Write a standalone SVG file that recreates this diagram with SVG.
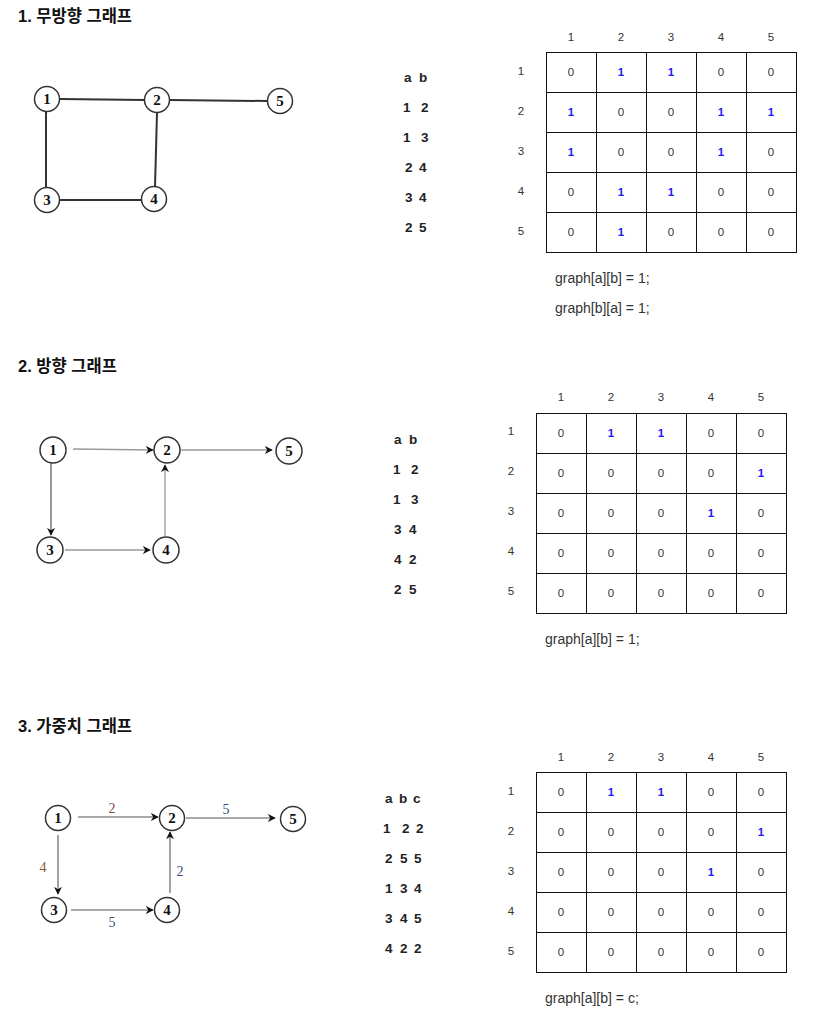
<svg xmlns="http://www.w3.org/2000/svg" width="818" height="1014" viewBox="0 0 818 1014">
<defs>
<style>
.title{font-family:"Liberation Sans","Noto Sans CJK KR",sans-serif;font-size:16.5px;font-weight:bold;fill:#111}
.node circle{fill:#fff;stroke:#333;stroke-width:1.5}
.node text{font-family:"Liberation Serif",serif;font-size:15px;font-weight:bold;fill:#111;text-anchor:middle;dominant-baseline:central}
.e1{stroke:#333;stroke-width:2;fill:none}
.e2{stroke:#999;stroke-width:1.3;fill:none}
.e2d{stroke:#555;stroke-width:1.2;fill:none}
.e3{stroke:#555;stroke-width:1.1;fill:none}
.list{font-family:"Liberation Sans",sans-serif;font-size:13.5px;font-weight:bold;fill:#222}
.hdr{font-family:"Liberation Sans",sans-serif;font-size:11.5px;fill:#333;text-anchor:middle;dominant-baseline:central}
.cell{font-family:"Liberation Sans",sans-serif;font-size:11.5px;fill:#333;text-anchor:middle;dominant-baseline:central}
.one{fill:#1a1aff;font-weight:bold}
.grid{fill:none;stroke:#111;stroke-width:1}
.code{font-family:"Liberation Sans",sans-serif;font-size:14px;fill:#333}
.w{font-family:"Liberation Serif",serif;font-size:14px}
</style>
<marker id="arr" viewBox="0 0 10 10" refX="9" refY="5" markerWidth="8" markerHeight="8" markerUnits="userSpaceOnUse" orient="auto">
<path d="M0,0 L10,5 L0,10 L3,5 Z" fill="#111"/>
</marker>
</defs>
<rect width="818" height="1014" fill="#fff"/>

<!-- Section 1 -->
<text class="title" x="18" y="22">1. 무방향 그래프</text>
<g id="edges1">
<line class="e1" x1="60" y1="99" x2="145" y2="100"/>
<line class="e1" x1="170" y1="100" x2="267" y2="101"/>
<line class="e1" x1="46" y1="112" x2="46" y2="188"/>
<line class="e1" x1="157" y1="113" x2="155" y2="187"/>
<line class="e1" x1="60" y1="200" x2="141" y2="200"/>
</g>
<g id="g1n1" class="node"><circle cx="47" cy="99" r="12.5"/><text x="47" y="99">1</text></g>
<g id="g1n2" class="node"><circle cx="157" cy="100" r="12.5"/><text x="157" y="100">2</text></g>
<g id="g1n5" class="node"><circle cx="280" cy="101" r="12.5"/><text x="280" y="101">5</text></g>
<g id="g1n3" class="node"><circle cx="47" cy="200" r="12.5"/><text x="47" y="200">3</text></g>
<g id="g1n4" class="node"><circle cx="154" cy="199" r="12.5"/><text x="154" y="199">4</text></g>

<g id="list1" class="list">
<text x="404 419" y="82">ab</text>
<text x="403 421" y="112">12</text>
<text x="403 421" y="142">13</text>
<text x="405 419" y="172">24</text>
<text x="405 419" y="202">34</text>
<text x="405 419" y="232">25</text>
</g>

<g id="matrix1">
<g class="hdr"><text x="571" y="37">1</text><text x="621" y="37">2</text><text x="671" y="37">3</text><text x="721" y="37">4</text><text x="771" y="37">5</text>
<text x="521" y="71">1</text><text x="521" y="111">2</text><text x="521" y="151">3</text><text x="521" y="191">4</text><text x="521" y="231">5</text></g>
<rect class="grid" x="546.5" y="52.5" width="250" height="200"/>
<path class="grid" d="M596.5,52.5V252.5M646.5,52.5V252.5M696.5,52.5V252.5M746.5,52.5V252.5M546.5,92.5H796.5M546.5,132.5H796.5M546.5,172.5H796.5M546.5,212.5H796.5"/>
<g class="cell">
<text x="571" y="72">0</text><text class="one" x="621" y="72">1</text><text class="one" x="671" y="72">1</text><text x="721" y="72">0</text><text x="771" y="72">0</text>
<text class="one" x="571" y="112">1</text><text x="621" y="112">0</text><text x="671" y="112">0</text><text class="one" x="721" y="112">1</text><text class="one" x="771" y="112">1</text>
<text class="one" x="571" y="152">1</text><text x="621" y="152">0</text><text x="671" y="152">0</text><text class="one" x="721" y="152">1</text><text x="771" y="152">0</text>
<text x="571" y="192">0</text><text class="one" x="621" y="192">1</text><text class="one" x="671" y="192">1</text><text x="721" y="192">0</text><text x="771" y="192">0</text>
<text x="571" y="232">0</text><text class="one" x="621" y="232">1</text><text x="671" y="232">0</text><text x="721" y="232">0</text><text x="771" y="232">0</text>
</g>
</g>
<text class="code" x="555" y="283">graph[a][b] = 1;</text>
<text class="code" x="555" y="313">graph[b][a] = 1;</text>

<!-- Section 2 -->
<text class="title" x="18" y="372">2. 방향 그래프</text>
<g id="edges2">
<line class="e2" x1="73" y1="449" x2="153" y2="450" marker-end="url(#arr)"/>
<line class="e2" x1="181" y1="450" x2="272" y2="450" marker-end="url(#arr)"/>
<line class="e2d" x1="51" y1="462" x2="51" y2="535" marker-end="url(#arr)"/>
<line class="e2" x1="65" y1="550" x2="150" y2="550" marker-end="url(#arr)"/>
<line class="e2" x1="165" y1="536" x2="165" y2="465" marker-end="url(#arr)"/>
</g>
<g id="g2n1" class="node"><circle cx="53" cy="450" r="13"/><text x="53" y="450">1</text></g>
<g id="g2n2" class="node"><circle cx="167" cy="450" r="13"/><text x="167" y="450">2</text></g>
<g id="g2n5" class="node"><circle cx="289" cy="451" r="13"/><text x="289" y="451">5</text></g>
<g id="g2n3" class="node"><circle cx="50" cy="550" r="13"/><text x="50" y="550">3</text></g>
<g id="g2n4" class="node"><circle cx="166" cy="550" r="13"/><text x="166" y="550">4</text></g>

<g id="list2" class="list">
<text x="394 409" y="444">ab</text>
<text x="393 411" y="474">12</text>
<text x="393 411" y="504">13</text>
<text x="394 409" y="534">34</text>
<text x="394 409" y="564">42</text>
<text x="394 409" y="594">25</text>
</g>

<g id="matrix2">
<g class="hdr"><text x="561" y="397">1</text><text x="611" y="397">2</text><text x="661" y="397">3</text><text x="711" y="397">4</text><text x="761" y="397">5</text>
<text x="511" y="431">1</text><text x="511" y="471">2</text><text x="511" y="511">3</text><text x="511" y="551">4</text><text x="511" y="591">5</text></g>
<rect class="grid" x="536.5" y="413.5" width="250" height="200"/>
<path class="grid" d="M586.5,413.5V613.5M636.5,413.5V613.5M686.5,413.5V613.5M736.5,413.5V613.5M536.5,453.5H786.5M536.5,493.5H786.5M536.5,533.5H786.5M536.5,573.5H786.5"/>
<g class="cell">
<text x="561" y="433">0</text><text class="one" x="611" y="433">1</text><text class="one" x="661" y="433">1</text><text x="711" y="433">0</text><text x="761" y="433">0</text>
<text x="561" y="473">0</text><text x="611" y="473">0</text><text x="661" y="473">0</text><text x="711" y="473">0</text><text class="one" x="761" y="473">1</text>
<text x="561" y="513">0</text><text x="611" y="513">0</text><text x="661" y="513">0</text><text class="one" x="711" y="513">1</text><text x="761" y="513">0</text>
<text x="561" y="553">0</text><text x="611" y="553">0</text><text x="661" y="553">0</text><text x="711" y="553">0</text><text x="761" y="553">0</text>
<text x="561" y="593">0</text><text x="611" y="593">0</text><text x="661" y="593">0</text><text x="711" y="593">0</text><text x="761" y="593">0</text>
</g>
</g>
<text class="code" x="545" y="644">graph[a][b] = 1;</text>

<!-- Section 3 -->
<text class="title" x="18" y="732">3. 가중치 그래프</text>
<g id="edges3">
<line class="e3" x1="78" y1="817" x2="158" y2="817" marker-end="url(#arr)"/>
<line class="e3" x1="186" y1="818" x2="275" y2="818" marker-end="url(#arr)"/>
<line class="e3" x1="58" y1="835" x2="58" y2="894" marker-end="url(#arr)"/>
<line class="e3" x1="71" y1="910" x2="153" y2="910" marker-end="url(#arr)"/>
<line class="e3" x1="170" y1="893" x2="170" y2="832" marker-end="url(#arr)"/>
<text class="w" x="112" y="813" text-anchor="middle" fill="#7a4848">2</text>
<text class="w" x="226" y="814" text-anchor="middle" fill="#3a4c80">5</text>
<text class="w" x="43" y="872" text-anchor="middle" fill="#8a5a30">4</text>
<text class="w" x="180" y="876" text-anchor="middle" fill="#3a4c80">2</text>
<text class="w" x="112" y="927" text-anchor="middle" fill="#3a4c80">5</text>
</g>
<g id="g3n1" class="node"><circle cx="58" cy="818" r="12.5"/><text x="58" y="818">1</text></g>
<g id="g3n2" class="node"><circle cx="172" cy="818" r="12.5"/><text x="172" y="818">2</text></g>
<g id="g3n5" class="node"><circle cx="293" cy="819" r="12.5"/><text x="293" y="819">5</text></g>
<g id="g3n3" class="node"><circle cx="54" cy="910" r="12.5"/><text x="54" y="910">3</text></g>
<g id="g3n4" class="node"><circle cx="167" cy="910" r="12.5"/><text x="167" y="910">4</text></g>

<g id="list3" class="list">
<text x="385 399 413" y="803">abc</text>
<text x="383 402 416" y="833">122</text>
<text x="385 400 414" y="863">255</text>
<text x="385 400 414" y="893">134</text>
<text x="385 400 414" y="923">345</text>
<text x="385 400 414" y="953">422</text>
</g>

<g id="matrix3">
<g class="hdr"><text x="561" y="757">1</text><text x="611" y="757">2</text><text x="661" y="757">3</text><text x="711" y="757">4</text><text x="761" y="757">5</text>
<text x="511" y="791">1</text><text x="511" y="831">2</text><text x="511" y="871">3</text><text x="511" y="911">4</text><text x="511" y="951">5</text></g>
<rect class="grid" x="536.5" y="772.5" width="250" height="200"/>
<path class="grid" d="M586.5,772.5V972.5M636.5,772.5V972.5M686.5,772.5V972.5M736.5,772.5V972.5M536.5,812.5H786.5M536.5,852.5H786.5M536.5,892.5H786.5M536.5,932.5H786.5"/>
<g class="cell">
<text x="561" y="792">0</text><text class="one" x="611" y="792">1</text><text class="one" x="661" y="792">1</text><text x="711" y="792">0</text><text x="761" y="792">0</text>
<text x="561" y="832">0</text><text x="611" y="832">0</text><text x="661" y="832">0</text><text x="711" y="832">0</text><text class="one" x="761" y="832">1</text>
<text x="561" y="872">0</text><text x="611" y="872">0</text><text x="661" y="872">0</text><text class="one" x="711" y="872">1</text><text x="761" y="872">0</text>
<text x="561" y="912">0</text><text x="611" y="912">0</text><text x="661" y="912">0</text><text x="711" y="912">0</text><text x="761" y="912">0</text>
<text x="561" y="952">0</text><text x="611" y="952">0</text><text x="661" y="952">0</text><text x="711" y="952">0</text><text x="761" y="952">0</text>
</g>
</g>
<text class="code" x="545" y="1003">graph[a][b] = c;</text>
</svg>
